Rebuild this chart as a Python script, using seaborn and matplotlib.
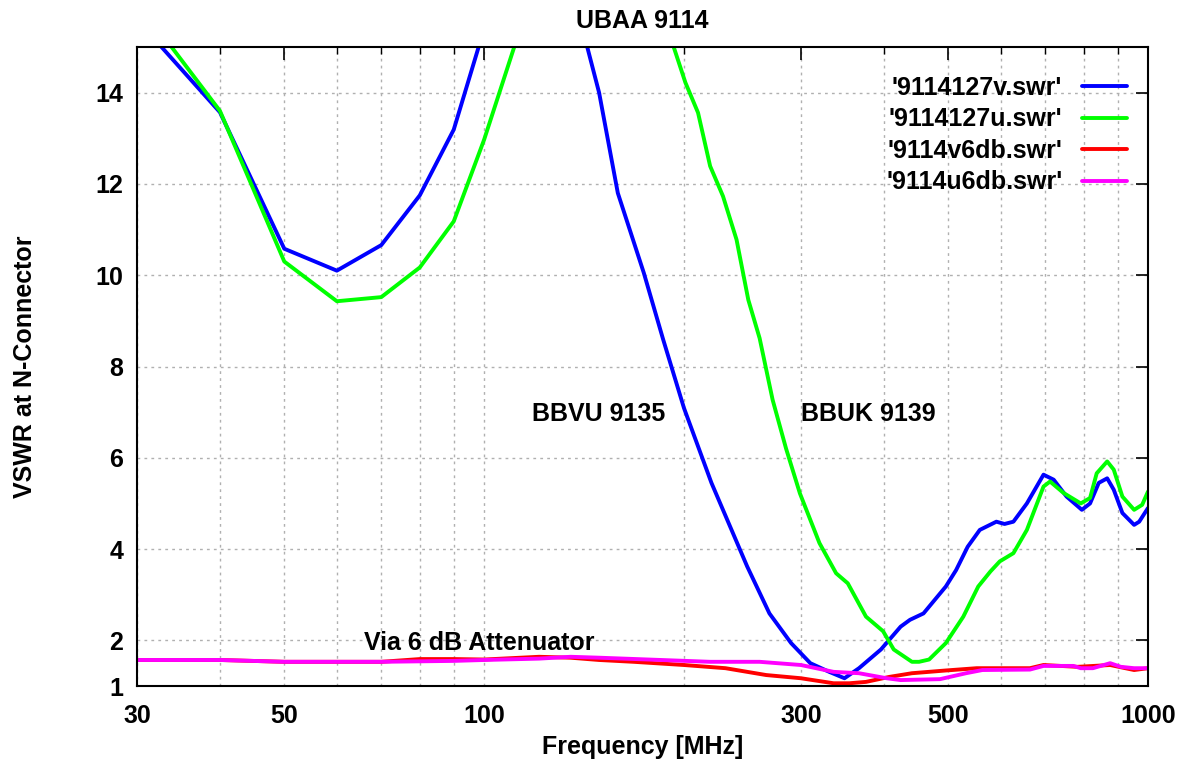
import pandas as pd
import seaborn as sns
import matplotlib.pyplot as plt
from matplotlib.ticker import FixedLocator, NullFormatter

# --- data (frequency in MHz, VSWR) ---
v_freq = [30, 40, 50, 60, 70, 80, 90, 100, 120, 143, 149, 159, 174, 186, 200,
          220, 249, 269, 290, 310, 331, 349, 367, 396, 424, 438, 459, 496, 514,
          535, 558, 591, 608, 627, 657, 696, 721, 754, 795, 818, 843, 868, 888,
          915, 953, 970, 1000]
v_swr = [15.6, 13.57, 10.58, 10.1, 10.66, 11.75, 13.19, 15.4, 20.0, 15.0, 14.0,
         11.8, 10.05, 8.6, 7.09, 5.45, 3.62, 2.59, 1.94, 1.50, 1.31, 1.17, 1.39,
         1.8, 2.3, 2.45, 2.59, 3.18, 3.54, 4.05, 4.42, 4.60, 4.55, 4.60, 5.0,
         5.63, 5.52, 5.15, 4.86, 5.0, 5.45, 5.55, 5.30, 4.79, 4.53, 4.60, 4.90]

u_freq = [30, 40, 50, 60, 70, 80, 90, 100, 111, 140, 193, 201, 210, 219, 229,
          240, 250, 260, 272, 285, 299, 320, 339, 353, 376, 399, 414, 441, 452,
          468, 496, 527, 555, 579, 598, 627, 657, 696, 712, 746, 792, 818, 837,
          868, 888, 915, 953, 980, 1000]
u_swr = [16.0, 13.6, 10.3, 9.43, 9.52, 10.17, 11.18, 12.97, 15.0, 22.0, 15.0,
         14.22, 13.56, 12.39, 11.73, 10.78, 9.46, 8.62, 7.27, 6.2, 5.22, 4.13,
         3.47, 3.25, 2.52, 2.2, 1.8, 1.53, 1.53, 1.58, 1.94, 2.52, 3.18, 3.51,
         3.73, 3.91, 4.42, 5.37, 5.48, 5.23, 5.0, 5.12, 5.66, 5.92, 5.74, 5.15,
         4.86, 4.97, 5.26]

v6_freq = [30, 40, 50, 70, 80, 90, 100, 121, 135, 149, 168, 200, 231, 266, 300,
           336, 355, 376, 408, 441, 496, 552, 664, 696, 783, 877, 953, 1000]
v6_swr = [1.57, 1.57, 1.53, 1.53, 1.59, 1.59, 1.58, 1.64, 1.62, 1.57, 1.53, 1.46,
          1.39, 1.24, 1.17, 1.06, 1.06, 1.09, 1.20, 1.28, 1.34, 1.39, 1.39, 1.46,
          1.42, 1.46, 1.35, 1.39]

u6_freq = [30, 40, 50, 70, 90, 100, 121, 135, 149, 219, 260, 300, 336, 367, 404,
           424, 486, 532, 563, 664, 696, 772, 792, 826, 877, 910, 953, 1000]
u6_swr = [1.57, 1.57, 1.53, 1.53, 1.55, 1.57, 1.60, 1.64, 1.62, 1.53, 1.53, 1.46,
          1.31, 1.28, 1.17, 1.13, 1.15, 1.28, 1.35, 1.36, 1.44, 1.44, 1.39, 1.39,
          1.50, 1.42, 1.39, 1.39]

series_names = ["'9114127v.swr'", "'9114127u.swr'", "'9114v6db.swr'", "'9114u6db.swr'"]
series_colors = ['#0000ff', '#00ff00', '#ff0000', '#ff00ff']

x_labelled = [30, 50, 100, 300, 500, 1000]
x_grid = [40, 60, 70, 80, 90, 200, 400, 600, 700, 800, 900]
y_ticks = [1, 2, 4, 6, 8, 10, 12, 14]

notes = [(118, 6.8, 'BBVU 9135'), (300, 6.8, 'BBUK 9139'), (66, 1.79, 'Via 6 dB Attenuator')]

frames = []
for name, f, s in zip(series_names,
                      [v_freq, u_freq, v6_freq, u6_freq],
                      [v_swr, u_swr, v6_swr, u6_swr]):
    frames.append(pd.DataFrame({'freq': f, 'swr': s, 'series': name}))
df = pd.concat(frames, ignore_index=True)

sns.set_style('white')
plt.rcParams['font.family'] = ['Liberation Sans', 'DejaVu Sans']
plt.rcParams['font.weight'] = 'bold'
plt.rcParams['axes.titleweight'] = 'bold'
plt.rcParams['axes.labelweight'] = 'bold'
for key in ['text.color', 'axes.labelcolor', 'xtick.color', 'ytick.color']:
    plt.rcParams[key] = 'black'

fig = plt.figure(figsize=(11.88, 7.67), dpi=100)
ax = fig.add_axes([137 / 1188, 1 - 686 / 767, 1011 / 1188, 639 / 767])

sns.lineplot(data=df, x='freq', y='swr', hue='series', hue_order=series_names,
             palette=dict(zip(series_names, series_colors)), estimator=None,
             sort=False, linewidth=2.8, legend=False, ax=ax)

ax.set_xscale('log')
ax.set_xlim(30, 1000)
ax.set_ylim(1, 15)

ax.xaxis.set_major_locator(FixedLocator(x_labelled))
ax.set_xticklabels([str(x) for x in x_labelled])
ax.xaxis.set_minor_locator(FixedLocator(x_grid))
ax.xaxis.set_minor_formatter(NullFormatter())
ax.set_yticks(y_ticks)

ax.tick_params(which='both', direction='in', top=True, right=True, colors='black',
               labelsize=18)
ax.tick_params(which='major', length=9, width=1.2)
ax.tick_params(which='minor', length=5, width=1.0)
ax.tick_params(axis='x', pad=13)
ax.tick_params(axis='y', pad=10)

ax.grid(True, which='both', color='#b0b0b0', linestyle=(0, (2, 3)), linewidth=1.0)
for sp in ax.spines.values():
    sp.set_color('black')
    sp.set_linewidth(1.5)

ax.set_title('UBAA 9114', fontsize=18, pad=14)
ax.set_xlabel('Frequency [MHz]', fontsize=18)
ax.set_ylabel('VSWR at N-Connector', fontsize=18)
ax.xaxis.set_label_coords(0.5, -0.077)
ax.yaxis.set_label_coords(-0.099, 0.5)

for x, y, txt in notes:
    ax.text(x, y, txt, fontsize=18, fontweight='bold', ha='left', va='baseline')

leg = ax.legend(handles=ax.get_lines()[:4], labels=series_names, loc='upper right',
                bbox_to_anchor=(1 + 8 / 1011, 1), frameon=False, markerfirst=False,
                fontsize=18, handlelength=1.8, labelspacing=0.3, handletextpad=0.8,
                borderaxespad=0.75)

fig.savefig('out.png', dpi=100)
